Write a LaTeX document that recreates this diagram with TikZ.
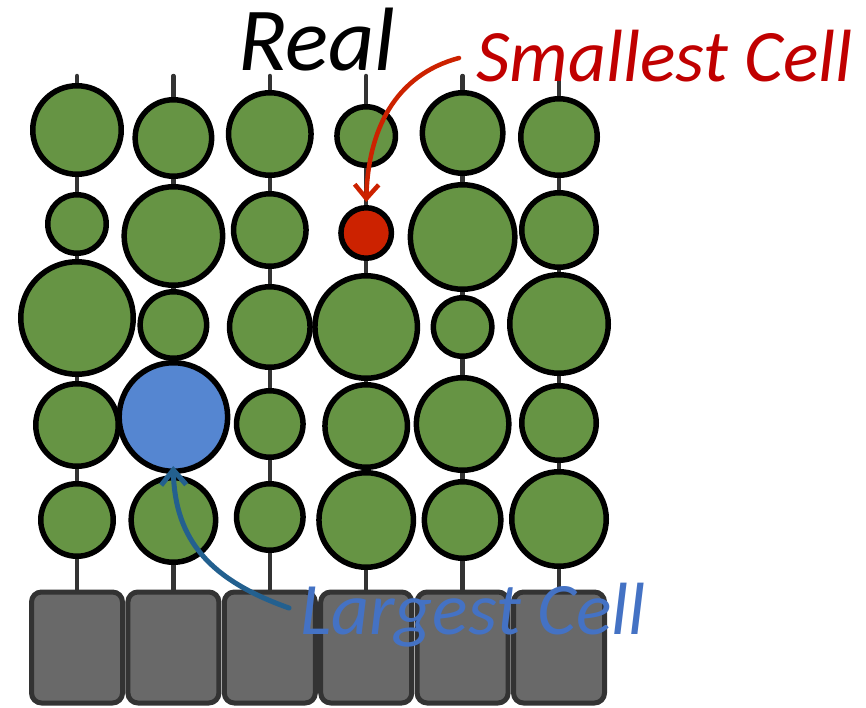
\documentclass[tikz,border=0pt]{standalone}
\usepackage{fontspec}
\newfontfamily\calib{Carlito}
\usetikzlibrary{arrows.meta}
\definecolor{leaf}{HTML}{669444}
\definecolor{bigcell}{HTML}{5586D1}
\definecolor{smallcell}{HTML}{CC2200}
\definecolor{stemgray}{HTML}{333333}
\definecolor{boxgray}{HTML}{696969}
\definecolor{redtext}{HTML}{C00000}
\definecolor{bluetext}{HTML}{4472C4}
\definecolor{bluearrow}{HTML}{23608F}
\begin{document}
\begin{tikzpicture}[x=1pt,y=-1pt,line join=round,line cap=round,
	cell/.style={circle,draw=black,line width=5.5pt,inner sep=0pt},
	stem/.style={draw=stemgray,line width=4.5pt},
	basebox/.style={draw=stemgray,fill=boxgray,line width=5pt,rounded corners=10pt,minimum width=91pt,minimum height=111pt},
	lbl/.style={anchor=base west,inner sep=0pt}]
	\useasboundingbox (0,0) rectangle (866,707);
	% stems and basal boxes
	\foreach \i in {1,...,6}{
		\pgfmathsetmacro\cx{77+96.4*(\i-1)}
		\coordinate (t\i) at (\cx,76);
		\node[basebox] (b\i) at (\cx,647.5) {};
		\draw[stem] (t\i) -- (b\i.north);
	}
	% cells: y/outer radius/fill
	\foreach \cells [count=\i] in {
		{130/47/leaf,224/32/leaf,318/59/leaf,425/44/leaf,520/39/leaf},
		{138/41/leaf,236/52/leaf,325/36/leaf,417/57/bigcell,520/45/leaf},
		{134/44/leaf,230/39/leaf,327/43/leaf,424/36/leaf,517/36/leaf},
		{136/32/leaf,233/28/smallcell,327/54/leaf,426/44/leaf,520/50/leaf},
		{133/43/leaf,237/55/leaf,327/32/leaf,424/49/leaf,520/41/leaf},
		{137/41/leaf,230/40/leaf,324/52/leaf,423/40/leaf,519/50/leaf}}{
		\pgfmathsetmacro\cx{77+96.4*(\i-1)}
		\foreach \cy/\r/\f [count=\j] in \cells
			\node[cell,fill=\f,minimum size={2*\r-5.5}] (c\i-\j) at (\cx,\cy) {};
	}
	% labels
	\node[lbl,font=\calib\itshape\fontsize{90}{90}\selectfont] (real) at (238,70) {Real};
	\node[lbl,text=redtext,font=\calib\itshape\fontsize{74}{74}\selectfont] (small) at (476,81) {Smallest Cell};
	\coordinate (rs) at (459,58);
	\draw[smallcell,line width=4.5pt,-{Straight Barb[length=14pt,width=24pt]},shorten >=3pt] (rs) .. controls (395,75) and (368,130) .. (c4-2.north);
	\coordinate (bs) at (289,608);
	\draw[bluearrow,line width=5pt,-{Straight Barb[length=15pt,width=25pt]},shorten >=-8pt] (bs) .. controls (210,580) and (175,540) .. (c2-4.south);
	\node[lbl,text=bluetext,font=\calib\itshape\fontsize{74}{74}\selectfont] (large) at (300,634) {Largest Cell};
\end{tikzpicture}
\end{document}
